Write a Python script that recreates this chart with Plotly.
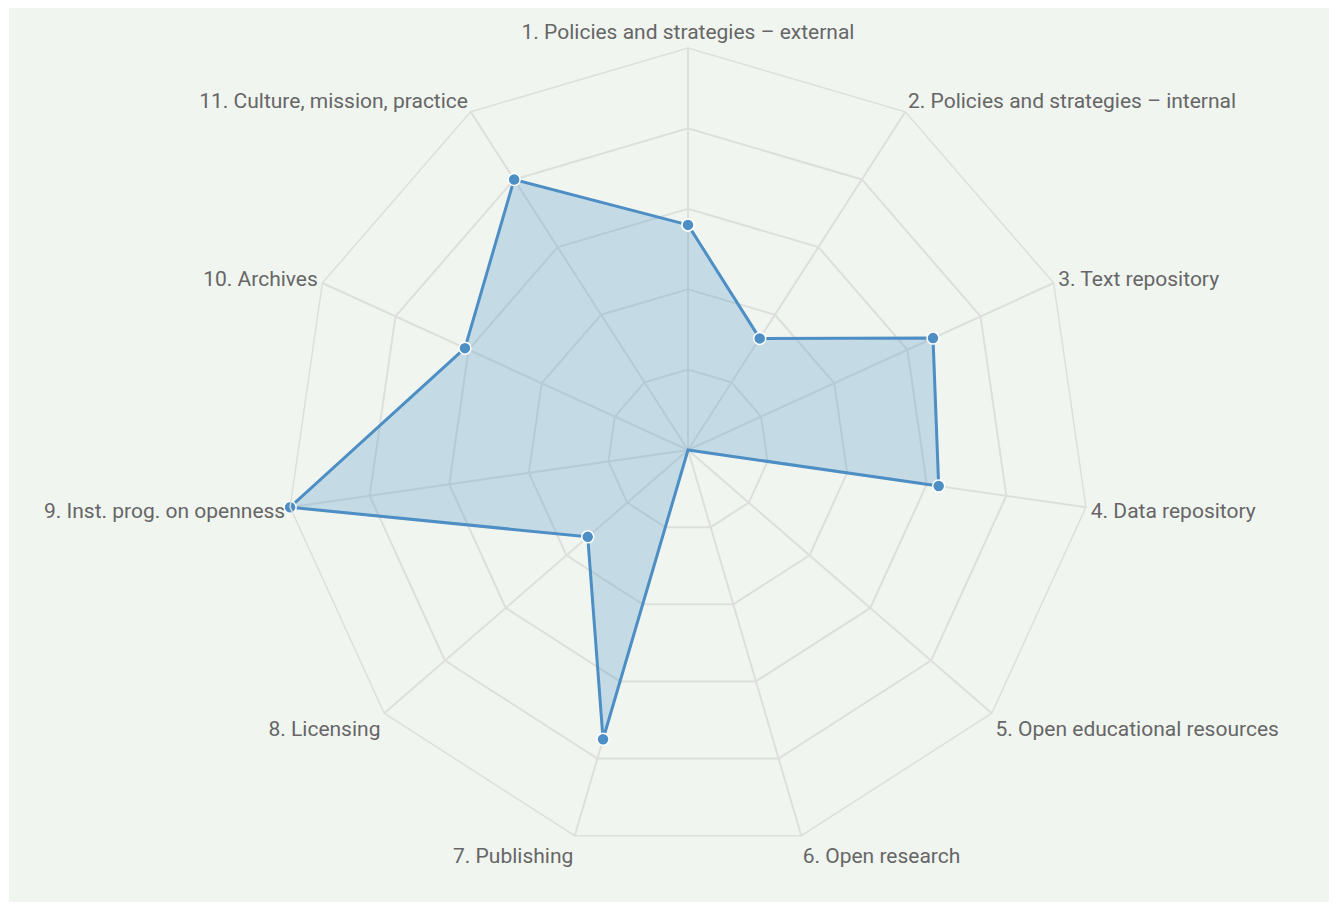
import plotly.graph_objects as go

categories = [
    "1. Policies and strategies – external",
    "2. Policies and strategies – internal",
    "3. Text repository",
    "4. Data repository",
    "5. Open educational resources",
    "6. Open research",
    "7. Publishing",
    "8. Licensing",
    "9. Inst. prog. on openness",
    "10. Archives",
    "11. Culture, mission, practice",
]
values = [56, 33, 67, 63, 0, 0, 75, 33, 100, 61, 80]

W, H = 1337, 906
# page body adds an 8px offset, so place the chart 8px up/left
cx, cy, R = 680, 442, 402
panel = "#f1f5f0"
grid = "#dddfdc"

fig = go.Figure()
fig.add_trace(go.Scatterpolar(
    r=values + values[:1],
    theta=categories + categories[:1],
    mode="lines+markers",
    fill="toself",
    fillcolor="rgba(80,150,200,0.28)",
    line=dict(color="#4d8ec5", width=3),
    marker=dict(size=12, color="#4d8ec5", line=dict(color="white", width=1.5)),
    hoverinfo="r+theta",
))

fig.update_layout(
    width=W, height=H,
    margin=dict(l=0, r=0, t=0, b=0),
    paper_bgcolor="white",
    showlegend=False,
    font=dict(family="Roboto, Arial, sans-serif", size=21, color="#666666"),
    shapes=[dict(type="rect", xref="paper", yref="paper",
                 x0=1 / W, x1=1322 / W, y0=1 - 894 / H, y1=1,
                 fillcolor=panel, line=dict(width=0), layer="below")],
    polar=dict(
        domain=dict(x=[(cx - R) / W, (cx + R) / W],
                    y=[(H - cy - R) / H, (H - cy + R) / H]),
        bgcolor=panel,
        gridshape="linear",
        radialaxis=dict(range=[0, 100], tickvals=[20, 40, 60, 80, 100],
                        showticklabels=False, ticks="", showline=False,
                        gridcolor=grid, gridwidth=1.5),
        angularaxis=dict(direction="clockwise", rotation=90,
                         showline=True, linecolor=grid, linewidth=1.5,
                         gridcolor=grid, gridwidth=1.5, ticks="",
                         tickfont=dict(size=21, color="#666666")),
    ),
)

fig.write_html("out.html")
